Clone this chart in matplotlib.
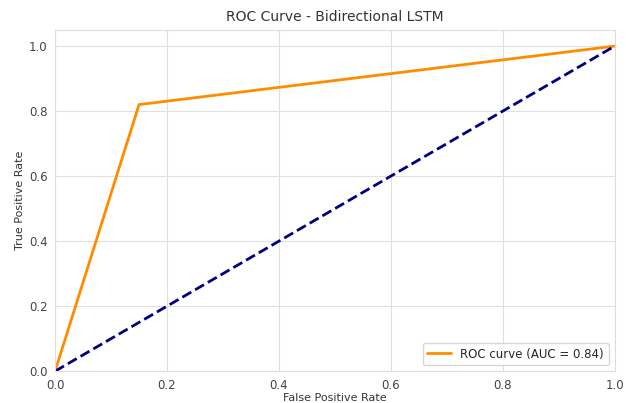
import matplotlib
matplotlib.use("Agg")
import matplotlib.pyplot as plt
import seaborn as sns

fpr = [0.0, 0.15, 1.0]
tpr = [0.0, 0.82, 1.0]
diag = [0.0, 1.0]
auc_label = "ROC curve (AUC = 0.84)"
xticks = [0.0, 0.2, 0.4, 0.6, 0.8, 1.0]
yticks = [0.0, 0.2, 0.4, 0.6, 0.8, 1.0]

sns.set_style("whitegrid")
plt.rcParams['font.family'] = ['DejaVu Sans']

fig = plt.figure(figsize=(6.26, 4.03), dpi=100)
ax = fig.add_axes([0.088, 0.079, 0.894, 0.847])
ax.plot(fpr, tpr, color="darkorange", lw=2, label=auc_label)
ax.plot(diag, diag, color="navy", lw=2, linestyle="--")
ax.set_xlim(0.0, 1.0)
ax.set_ylim(0.0, 1.05)
ax.set_xticks(xticks)
ax.set_yticks(yticks)
ax.tick_params(labelsize=8.5, colors="#444444", pad=2)
ax.set_xlabel("False Positive Rate", fontsize=8, color="#333333", labelpad=1)
ax.set_ylabel("True Positive Rate", fontsize=8, color="#333333", labelpad=3)
ax.set_title("ROC Curve - Bidirectional LSTM", fontsize=10, color="#333333", pad=6)
for s in ax.spines.values():
    s.set_color("#dddddd")
ax.grid(color="#e0e0e0")
ax.legend(loc="lower right", fontsize=8.5)
fig.savefig("out.png", dpi=100)
